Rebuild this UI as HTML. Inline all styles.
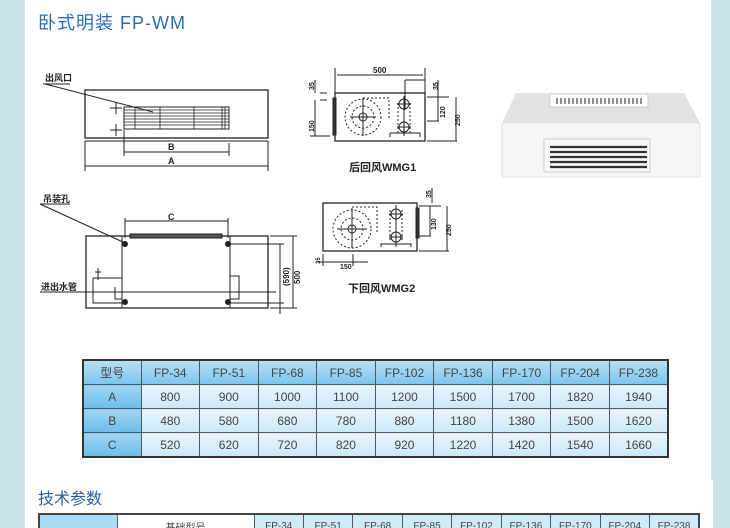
<!DOCTYPE html>
<html><head><meta charset="utf-8"><style>
html,body{margin:0;padding:0;width:730px;height:528px;overflow:hidden;background:#c9e4e8;position:relative;}
.top{position:absolute;left:25px;top:0;width:686px;height:480px;background:#fff;}
.bot{position:absolute;left:25px;top:480px;width:688px;height:48px;background:#fff;}
.title{position:absolute;left:38px;top:9px;font:18px "Liberation Sans","Noto Sans CJK SC",sans-serif;color:#2b6db5;letter-spacing:1px;}
.t2{position:absolute;left:38px;top:485px;font:16px "Liberation Sans","Noto Sans CJK SC",sans-serif;color:#2b5fa5;}
table{border-collapse:collapse;position:absolute;table-layout:fixed;font:12px "Liberation Sans","Noto Sans CJK SC",sans-serif;color:#444;}
#t1{left:82px;top:359px;width:587px;border:2px solid #333;}
#t1 td{border:1px solid #556;height:23px;text-align:center;padding:0;background:linear-gradient(#eaf6fd,#c9e8f8);white-space:nowrap;}
#t1 tr:first-child td{background:linear-gradient(#b6e0f6,#7cc6ee);}
#t1 td:first-child{background:linear-gradient(#9fd5f2,#6ebde9);}
#t2{left:38px;top:513px;width:662px;border:2px solid #444;}
#t2 td{border:1px solid #556;height:22px;background:#cfeaf8;font-size:10px;text-align:center;padding:0;white-space:nowrap;overflow:hidden;}
</style></head><body>
<div class="top"></div><div class="bot"></div>
<div class="title">卧式明装 FP-WM</div>
<svg style="position:absolute;left:0;top:0" width="730" height="340" font-family="Liberation Sans,Noto Sans CJK SC,sans-serif">
<g stroke="#222" fill="none" stroke-width="1">
<rect x="85" y="90" width="183" height="48" stroke-width="1.3"/>
<line x1="85" y1="141" x2="268" y2="141"/>
<rect x="124" y="107" width="105" height="22"/>
<g stroke-width="0.8"><line x1="124" y1="110" x2="229" y2="110"/><line x1="124" y1="113" x2="229" y2="113"/><line x1="124" y1="116" x2="229" y2="116"/><line x1="124" y1="119" x2="229" y2="119"/><line x1="124" y1="122" x2="229" y2="122"/><line x1="124" y1="125" x2="229" y2="125"/>
<line x1="135" y1="107" x2="135" y2="129"/><line x1="160" y1="107" x2="160" y2="129"/><line x1="194" y1="107" x2="194" y2="129"/><line x1="222" y1="107" x2="222" y2="129"/><line x1="225" y1="107" x2="225" y2="129"/></g>
<path d="M110 108h12M116 102v12M110 130h12M116 124v12"/>
<line x1="45" y1="84" x2="153" y2="112"/><line x1="43" y1="84" x2="70" y2="84"/>
<path d="M124 130v26M229 143v13M124 152h105M85 141v30M268 141v30M85 166h183"/>
<rect x="86" y="236" width="182" height="72" stroke-width="1.3"/>
<rect x="122" y="236" width="108" height="72"/>
<rect x="130" y="234" width="92" height="4" fill="#555"/>
<path d="M125 218v20M228 218v20M125 221h103"/>
<line x1="40" y1="204" x2="125" y2="243"/><line x1="40" y1="204" x2="70" y2="204"/>
<path d="M230 244h54M230 303h54M270 236h27M270 308h27M280 244v70M293 236v72"/>
<path d="M93 278h29v-2M93 278v25h29M230 276h9v23h-9M115 287v12h7"/>
<line x1="40" y1="292" x2="276" y2="292"/>
<circle cx="125" cy="244" r="2.5" fill="#222"/><circle cx="228" cy="244" r="2.5" fill="#222"/><circle cx="125" cy="302" r="2.5" fill="#222"/><circle cx="228" cy="302" r="2.5" fill="#222"/>
<path d="M98 268v12M95 272h6"/>
<rect x="335" y="93" width="90" height="48" stroke-width="1.3"/>
<rect x="333" y="98" width="3" height="37" fill="#333"/>
<path d="M335 68v25M425 68v25M337 75h86M320 93h7M320 100h7M315 80v13M315 100v36M310 136h20M405 80h20M405 80v30M427 97h22M427 121h12M427 141h30M438 80v17M438 97v24M456 97v44"/>
<g stroke-dasharray="2,2"><circle cx="363" cy="117" r="18"/><circle cx="363" cy="117" r="11"/><path d="M363 98h26v22M398 103v30M410 103v30"/></g>
<circle cx="363" cy="117" r="4"/><path d="M350 117h26M363 99v37"/>
<circle cx="404" cy="104" r="5"/><circle cx="404" cy="127" r="5"/><path d="M397 104h14M397 127h14M404 96v40M390 137v-4h30v4"/>
<rect x="323" y="203" width="94" height="48" stroke-width="1.3"/>
<rect x="416" y="208" width="3" height="30" fill="#333"/>
<path d="M419 206h22M419 236h12M419 251h30M430 206v30M447 206v45M432 188v15M323 254v12M353 254v12M318 262h50"/>
<g stroke-dasharray="2,2"><circle cx="352" cy="229" r="19"/><circle cx="352" cy="229" r="11"/><path d="M352 207h25v25M390 210v32M402 210v32"/></g>
<circle cx="352" cy="229" r="4"/><path d="M337 229h30M352 208v40"/>
<circle cx="396" cy="214" r="5"/><circle cx="396" cy="237" r="5"/><path d="M389 214h14M389 237h14M396 205v42M381 247v-3h30v3"/>
</g>
<g font-size="9" font-weight="bold" fill="#222">
<text x="45" y="81">出风口</text><text x="168" y="150">B</text><text x="168" y="164">A</text>
<text x="43" y="202">吊装孔</text><text x="168" y="220">C</text><text x="41" y="290">进出水管</text>
<text transform="translate(289,286) rotate(-90)" font-size="8">(590)</text>
<text transform="translate(300,284) rotate(-90)" font-size="8">500</text>
<text x="373" y="73" font-size="8">500</text>
<text transform="translate(314,90) rotate(-90)" font-size="7">35</text>
<text transform="translate(314,132) rotate(-90)" font-size="7">150</text>
<text transform="translate(438,90) rotate(-90)" font-size="7">35</text>
<text transform="translate(445,118) rotate(-90)" font-size="7">120</text>
<text transform="translate(460,126) rotate(-90)" font-size="7">250</text>
<text transform="translate(431,198) rotate(-90)" font-size="7">35</text>
<text transform="translate(436,230) rotate(-90)" font-size="7">130</text>
<text transform="translate(451,236) rotate(-90)" font-size="7">250</text>
<text transform="translate(320,264) rotate(-90)" font-size="6">35</text>
<text x="340" y="269" font-size="7">150</text>
<text x="349" y="171" font-size="11">后回风WMG1</text>
<text x="348" y="292" font-size="11">下回风WMG2</text>
</g>
<polygon points="516,93 684,93 700,123 502,123" fill="#e2e2e2"/>
<polygon points="502,123 700,123 700,177 502,177" fill="#f6f6f6" stroke="#e0e0e0"/>
<rect x="550" y="94" width="98" height="13" fill="#fff" stroke="#ccc"/>
<g stroke="#444" stroke-width="1.2"><path d="M557 98v6M561 98v6M565 98v6M569 98v6M573 98v6M577 98v6M581 98v6M585 98v6M589 98v6M593 98v6M597 98v6M601 98v6M605 98v6M609 98v6M613 98v6M617 98v6M621 98v6M625 98v6M629 98v6M633 98v6M637 98v6M641 98v6"/></g>
<rect x="544" y="139" width="106" height="33" fill="#f7f7f7" stroke="#ccc"/>
<g stroke="#333" stroke-width="2.2"><path d="M550 147h97M550 152h97M550 157h97M550 162h97M550 167h97"/></g>
</svg>
<table id="t1">
<colgroup><col style="width:58px"><col><col><col><col><col><col><col><col><col></colgroup>
<tr><td>型号</td><td>FP-34</td><td>FP-51</td><td>FP-68</td><td>FP-85</td><td>FP-102</td><td>FP-136</td><td>FP-170</td><td>FP-204</td><td>FP-238</td></tr>
<tr><td>A</td><td>800</td><td>900</td><td>1000</td><td>1100</td><td>1200</td><td>1500</td><td>1700</td><td>1820</td><td>1940</td></tr>
<tr><td>B</td><td>480</td><td>580</td><td>680</td><td>780</td><td>880</td><td>1180</td><td>1380</td><td>1500</td><td>1620</td></tr>
<tr><td>C</td><td>520</td><td>620</td><td>720</td><td>820</td><td>920</td><td>1220</td><td>1420</td><td>1540</td><td>1660</td></tr>
</table>
<div class="t2">技术参数</div>
<table id="t2"><colgroup><col style="width:78px"><col style="width:137px"><col><col><col><col><col><col><col><col><col></colgroup>
<tr><td style="background:#a9dbf4"></td><td style="background:#fff">基础型号</td><td>FP-34</td><td>FP-51</td><td>FP-68</td><td>FP-85</td><td>FP-102</td><td>FP-136</td><td>FP-170</td><td>FP-204</td><td>FP-238</td></tr></table>
</body></html>
